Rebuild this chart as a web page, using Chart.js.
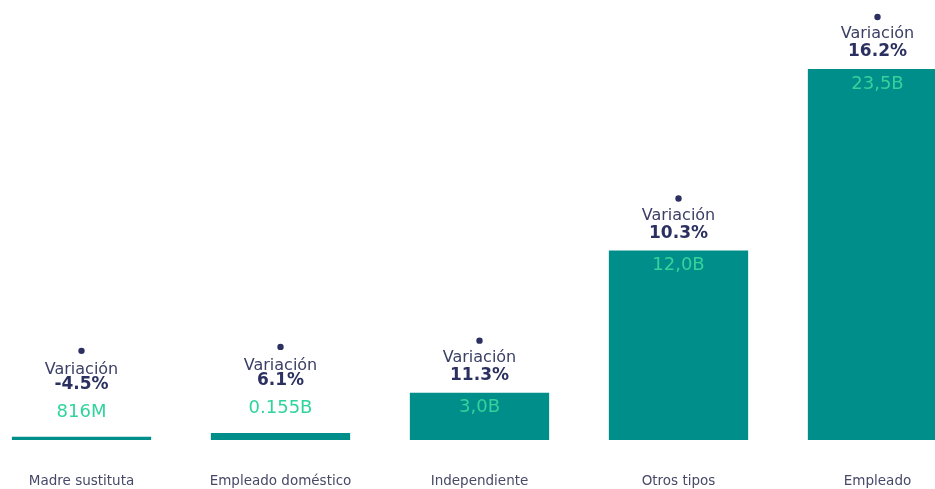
<!DOCTYPE html>
<html>
<head>
<meta charset="utf-8">
<script src="https://cdn.jsdelivr.net/npm/chart.js@4"></script>
<style>
  body { margin: 0; background: #fff; overflow: hidden; width: 935px; height: 489px; position: relative; }
  #wrap { position: absolute; left: -18px; top: 0; width: 995px; height: 489px; }
</style>
</head>
<body>
<div id="wrap"><canvas id="chart" width="995" height="489"></canvas></div>
<script>
var categories = ['Madre sustituta', 'Empleado doméstico', 'Independiente', 'Otros tipos', 'Empleado'];
// bar heights as seen in the picture (B)
var values = [0.2, 0.45, 3.0, 12.0, 23.5];
var valueLabels = ['816M', '0.155B', '3,0B', '12,0B', '23,5B'];
var variations = ['-4.5%', '6.1%', '11.3%', '10.3%', '16.2%'];

var barLabels = {
  id: 'barLabels',
  afterDatasetsDraw: function(chart) {
    var ctx = chart.ctx;
    var meta = chart.getDatasetMeta(0);
    ctx.save();
    ctx.textAlign = 'center';
    ctx.textBaseline = 'middle';
    meta.data.forEach(function(bar, i) {
      var x = bar.x, y = bar.y;
      var small = (bar.base - y) < 30;
      var valY, pctY, varY, dotY;
      if (small) {
        valY = y - 25; pctY = y - 52; varY = y - 67; dotY = y - 86;
      } else {
        valY = y + 15; pctY = y - 17; varY = y - 35; dotY = y - 52;
      }
      ctx.fillStyle = '#2b3060';
      ctx.beginPath();
      ctx.arc(x, dotY, 3.2, 0, Math.PI * 2);
      ctx.fill();
      ctx.font = '16px "DejaVu Sans"';
      ctx.fillStyle = '#3c4066';
      ctx.fillText('Variación', x, varY);
      ctx.font = 'bold 17px "DejaVu Sans"';
      ctx.fillStyle = '#2b3060';
      ctx.fillText(variations[i], x, pctY);
      ctx.font = '18px "DejaVu Sans"';
      ctx.fillStyle = small ? '#2fd49c' : '#35d29c';
      ctx.fillText(valueLabels[i], x, valY);
    });
    ctx.restore();
  }
};

new Chart(document.getElementById('chart'), {
  type: 'bar',
  data: {
    labels: categories,
    datasets: [{
      data: values,
      backgroundColor: '#008e8a',
      barPercentage: 0.7,
      categoryPercentage: 1
    }]
  },
  options: {
    responsive: false,
    animation: false,
    layout: { padding: { top: 69, bottom: 0, left: 0, right: 0 } },
    plugins: { legend: { display: false }, tooltip: { enabled: false } },
    scales: {
      x: {
        grid: { display: false, drawTicks: false },
        border: { display: false },
        ticks: { padding: 33, color: '#464a68', font: { family: 'DejaVu Sans', size: 13.5 } },
        afterFit: function(scale) { scale.height = 49; }
      },
      y: { display: false, min: 0, max: 23.5 }
    }
  },
  plugins: [barLabels]
});
</script>
</body>
</html>
